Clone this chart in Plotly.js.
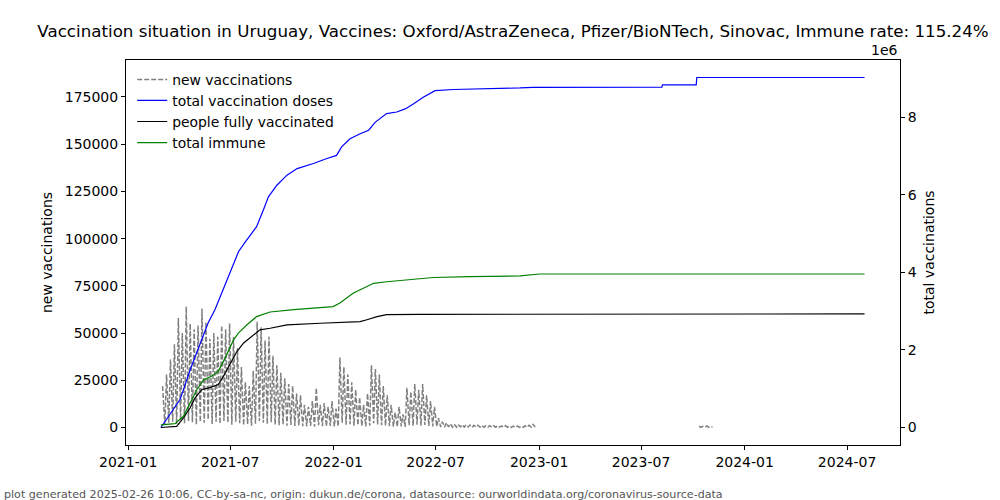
<!DOCTYPE html>
<html>
<head>
<meta charset="utf-8">
<script src="https://cdn.plot.ly/plotly-3.0.1.min.js"></script>
<style>html,body{margin:0;padding:0;background:#fff;}#chart{width:1000px;height:500px;}</style>
</head>
<body>
<div id="chart"></div>
<script>
// ---- new vaccinations (left axis): weekly mid-week peaks and weekend lows from 2021-03-01 ----
const nvStart = '2021-03-01';
const nvPeaks = [22000, 28000, 36000, 44000, 58000, 50000, 64000, 55000, 52000, 54000,
  63000, 56000, 47000, 50000, 48000, 54000, 52000, 55000, 48000, 42000,
  32000, 24000, 22000, 30000, 56000, 53000, 46000, 48000, 38000, 33000,
  29000, 26000, 23000, 22000, 18000, 17000, 12000, 11000, 14000, 21000,
  12000, 13000, 11000, 14000, 10000, 37000, 32000, 28000, 24000, 20000,
  16000, 12000, 18000, 33000, 31000, 28000, 22000, 17000, 12000, 8000,
  11000, 7000, 21000, 19000, 23000, 20000, 23000, 17000, 14000, 11000,
  5000, 3000, 2500, 2000, 1800, 1600, 1500, 1400, 1300, 1200,
  1200, 1100, 1000, 1000, 900, 900, 800, 900, 800, 700,
  800, 700, 900, 1200, 1600];
const nvLows = [1500, 2500, 3000, 1800, 4000, 2200, 3500, 2800, 1500, 3000,
  2500, 4200, 1800, 3000, 2000, 3500, 2600, 1500, 3000, 2200,
  1200, 1800, 900, 2000, 3500, 2500, 1800, 2800, 1500, 1200,
  1600, 900, 1300, 800, 1100, 700, 600, 900, 500, 1200,
  700, 600, 800, 500, 600, 2500, 1500, 1800, 1000, 1200,
  800, 600, 1000, 2200, 1600, 1200, 900, 700, 500, 400,
  600, 300, 1200, 900, 1500, 1000, 1300, 800, 600, 500,
  300, 200, 300, 250, 200, 300, 200, 250, 150, 200,
  200, 150, 200, 100, 150, 200, 100, 150, 100, 150,
  100, 120, 150, 200, 300];
const nvLateDates = ['2023-10-12','2023-10-15','2023-10-19','2023-10-22','2023-10-26','2023-10-29','2023-11-02','2023-11-05'];
const nvLateValues = [700, 100, 600, 150, 800, 100, 500, 200];

// ---- totals (right axis) ----
const totalDates = ['2021-02-28','2021-03-16','2021-04-03','2021-04-21','2021-05-09','2021-05-23','2021-06-04','2021-06-25',
  '2021-07-10','2021-07-16','2021-07-28','2021-08-11','2021-08-17','2021-08-29','2021-09-07','2021-09-22','2021-10-10',
  '2021-10-28','2021-11-26','2021-12-20','2022-01-06','2022-01-15','2022-01-30','2022-02-17','2022-03-04','2022-03-16',
  '2022-04-05','2022-04-23','2022-05-08','2022-05-23','2022-06-09','2022-06-30','2022-08-02','2022-11-28','2022-12-21',
  '2023-08-07','2023-08-08','2023-10-07','2023-10-08','2024-08-01'];
const totalValues = [0, 334000, 720000, 1490000, 2190000, 2700000, 3040000, 3810000,
  4320000, 4540000, 4790000, 5050000, 5180000, 5610000, 5950000, 6250000, 6510000,
  6680000, 6810000, 6940000, 7020000, 7240000, 7450000, 7580000, 7670000, 7880000,
  8100000, 8140000, 8220000, 8350000, 8520000, 8690000, 8720000, 8760000, 8775000,
  8780000, 8840000, 8840000, 9030000, 9030000];

const fullyDates = ['2021-02-28','2021-03-28','2021-04-09','2021-04-21','2021-04-30','2021-05-12','2021-05-26','2021-06-10',
  '2021-06-19','2021-07-01','2021-07-13','2021-07-25','2021-08-09','2021-08-23','2021-09-10','2021-10-10','2021-12-08',
  '2022-02-17','2022-03-01','2022-03-19','2022-04-05','2022-06-03','2024-08-01'];
const fullyValues = [0, 30000, 250000, 510000, 770000, 980000, 1030000, 1110000,
  1320000, 1660000, 1960000, 2180000, 2350000, 2520000, 2560000, 2650000, 2690000,
  2730000, 2780000, 2860000, 2910000, 2920000, 2930000];

const immuneDates = ['2021-02-28','2021-03-25','2021-04-09','2021-04-21','2021-05-03','2021-05-15','2021-05-29','2021-06-10',
  '2021-06-22','2021-07-07','2021-07-16','2021-07-31','2021-08-17','2021-09-10','2021-10-22','2021-12-31','2022-01-12',
  '2022-02-05','2022-02-23','2022-03-13','2022-04-05','2022-05-11','2022-06-27','2022-08-31','2022-11-28','2023-01-02','2024-08-01'];
const immuneValues = [70000, 100000, 290000, 640000, 980000, 1230000, 1320000, 1450000,
  1790000, 2260000, 2440000, 2650000, 2860000, 2980000, 3040000, 3120000, 3210000,
  3470000, 3590000, 3720000, 3760000, 3810000, 3870000, 3890000, 3910000, 3960000, 3960000];

const xTickVals = ['2021-01-01','2021-07-01','2022-01-01','2022-07-01','2023-01-01','2023-07-01','2024-01-01','2024-07-01'];
const xTickText = ['2021-01','2021-07','2022-01','2022-07','2023-01','2023-07','2024-01','2024-07'];
const yTickVals = [0, 25000, 50000, 75000, 100000, 125000, 150000, 175000];
const y2TickVals = [0, 2000000, 4000000, 6000000, 8000000];
const y2TickText = ['0','2','4','6','8'];

// build new-vaccination series
function addDays(iso, n) {
  const d = new Date(iso + 'T00:00:00Z');
  d.setUTCDate(d.getUTCDate() + n);
  return d.toISOString().slice(0, 10);
}
const nvX = [], nvY = [];
for (let i = 0; i < nvPeaks.length; i++) {
  nvX.push(addDays(nvStart, 7 * i + 2)); nvY.push(nvPeaks[i]);
  nvX.push(addDays(nvStart, 7 * i + 6)); nvY.push(nvLows[i]);
}
nvX.push('2023-06-01'); nvY.push(null);
for (let i = 0; i < nvLateDates.length; i++) { nvX.push(nvLateDates[i]); nvY.push(nvLateValues[i]); }

const FONT = 'DejaVu Sans, Liberation Sans, sans-serif';
const traces = [
  {x: nvX, y: nvY, name: 'new vaccinations', type: 'scatter', mode: 'lines', yaxis: 'y',
   line: {color: '#808080', width: 1.5, dash: '5px,2px'}, connectgaps: false},
  {x: totalDates, y: totalValues, name: 'total vaccination doses', type: 'scatter', mode: 'lines', yaxis: 'y2',
   line: {color: '#0000ff', width: 1.2}},
  {x: fullyDates, y: fullyValues, name: 'people fully vaccinated', type: 'scatter', mode: 'lines', yaxis: 'y2',
   line: {color: '#000000', width: 1.2}},
  {x: immuneDates, y: immuneValues, name: 'total immune', type: 'scatter', mode: 'lines', yaxis: 'y2',
   line: {color: '#008000', width: 1.2}}
];

const layout = {
  width: 1000, height: 500,
  margin: {l: 126, r: 100, t: 60, b: 55, pad: 0},
  paper_bgcolor: '#ffffff', plot_bgcolor: '#ffffff',
  font: {family: FONT, size: 14, color: '#000'},
  title: {text: 'Vaccination situation in Uruguay, Vaccines: Oxford/AstraZeneca, Pfizer/BioNTech, Sinovac, Immune rate: 115.24%',
          font: {family: FONT, size: 16.7, color: '#000'}, xref: 'paper', x: 0.5, xanchor: 'center',
          yref: 'container', y: 0.938, yanchor: 'middle'},
  showlegend: true,
  legend: {x: 0.008, y: 0.99, xanchor: 'left', yanchor: 'top', bgcolor: 'rgba(0,0,0,0)', borderwidth: 0,
           font: {family: FONT, size: 13.9, color: '#000'}, itemwidth: 30, tracegroupgap: 0},
  xaxis: {type: 'date', range: ['2020-12-28', '2024-10-03'], tickvals: xTickVals, ticktext: xTickText,
          ticks: 'outside', ticklen: 4, tickcolor: '#000', tickwidth: 1,
          showline: true, mirror: true, linecolor: '#000', linewidth: 1, showgrid: false, zeroline: false,
          tickfont: {family: FONT, size: 14, color: '#000'}},
  yaxis: {range: [-9265, 194565], tickvals: yTickVals, tickformat: 'd',
          ticks: 'outside', ticklen: 4, tickcolor: '#000', tickwidth: 1,
          showline: true, linecolor: '#000', linewidth: 1, showgrid: false, zeroline: false,
          tickfont: {family: FONT, size: 14, color: '#000'},
          title: {text: 'new vaccinations', font: {family: FONT, size: 14, color: '#000'}, standoff: 8}},
  yaxis2: {overlaying: 'y', side: 'right', range: [-451500, 9481500], tickvals: y2TickVals, ticktext: y2TickText,
           ticks: 'outside', ticklen: 4, tickcolor: '#000', tickwidth: 1,
           showline: true, linecolor: '#000', linewidth: 1, showgrid: false, zeroline: false,
           tickfont: {family: FONT, size: 14, color: '#000'},
           title: {text: 'total vaccinations', font: {family: FONT, size: 14, color: '#000'}, standoff: 8}},
  annotations: [
    {text: '1e6', xref: 'paper', yref: 'paper', x: 1.0, y: 1.026, xanchor: 'right', yanchor: 'middle',
     showarrow: false, font: {family: FONT, size: 14, color: '#000'}},
    {text: 'plot generated 2025-02-26 10:06, CC-by-sa-nc, origin: dukun.de/corona, datasource: ourworldindata.org/coronavirus-source-data',
     xref: 'paper', yref: 'paper', x: -0.1602, y: -0.1273, xanchor: 'left', yanchor: 'middle',
     showarrow: false, font: {family: FONT, size: 11.1, color: '#555555'}}
  ]
};

Plotly.newPlot('chart', traces, layout, {displayModeBar: false, staticPlot: true});
</script>
</body>
</html>
